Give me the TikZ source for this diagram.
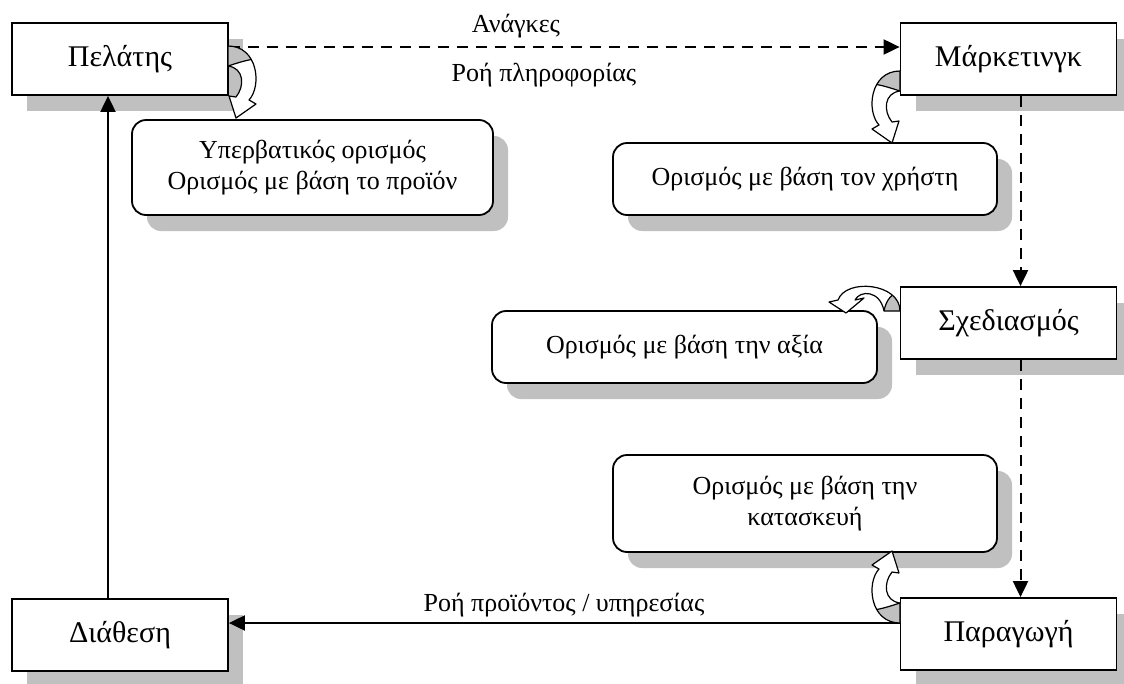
\documentclass[tikz,border=0pt]{standalone}
\usepackage{fontspec}
\setmainfont{Liberation Serif}
\usetikzlibrary{arrows.meta,shadows}
\definecolor{shadowgray}{RGB}{192,192,192}

% curved ribbon arrow: #1 outline, #2 back-face region, #3 seam line
\newcommand\twistarrow[3]{%
  \fill[white] #1;
  \begin{scope}
    \clip #1;
    \fill[shadowgray] #2;
    \draw[twist] #3;
  \end{scope}
  \draw[twist] #1;
}
% ribbon in a local frame: tail edge (0,0)--(0,20), head near (8,72)
\newcommand\localtwist{%
  \twistarrow
    {(0,0) .. controls (30,0) and (34,40) .. (21,54) -- (28,58) -- (8,72) -- (1,50) -- (8,51) .. controls (17,40) and (16,22) .. (0,20) -- cycle}
    {(0,20) .. controls (10,17) and (22,12) .. (40,12) -- (40,-5) -- (-5,-5) -- (-5,20) -- cycle}
    {(0,20) .. controls (10,17) and (22,12) .. (40,12)}%
}

\begin{document}
\begin{tikzpicture}[x=1pt,y=-1pt,
  boxshadow/.style={drop shadow={shadow xshift=15pt,shadow yshift=-16pt,fill=shadowgray,opacity=1}},
  stagebox/.style={draw, line width=1.8pt, fill=white, minimum width=216pt,
    minimum height=72pt, inner sep=0pt, font=\fontsize{30}{36}\selectfont, boxshadow},
  notebox/.style={draw, line width=1.8pt, fill=white, rounded corners=14pt,
    inner sep=0pt, align=center, font=\fontsize{26}{31}\selectfont, boxshadow},
  flowlabel/.style={font=\fontsize{26}{31}\selectfont, anchor=base, inner sep=0pt},
  flow/.style={line width=2pt, -{Triangle[length=16pt,width=15pt]}},
  infoflow/.style={flow, dash pattern=on 11pt off 8pt},
  twist/.style={line width=1.2pt, line join=round},
]
\useasboundingbox (0,0) rectangle (1124,683);

% stages of the cycle
\node[stagebox] (pel) at (120,59)    {Πελάτης};
\node[stagebox] (mk)  at (1008.5,59) {Μάρκετινγκ};
\node[stagebox] (sx)  at (1008.5,323){Σχεδιασμός};
\node[stagebox] (pr)  at (1008.5,634){Παραγωγή};
\node[stagebox] (di)  at (120,635)   {Διάθεση};

% definitions attached to the stages
\node[notebox, minimum width=361pt, minimum height=95pt] (b1) at (312.5,167.5)
  {Υπερβατικός ορισμός\\Ορισμός με βάση το προϊόν};
\node[notebox, minimum width=384pt, minimum height=72pt] (b2) at (805,179)
  {Ορισμός με βάση τον χρήστη};
\node[notebox, minimum width=385pt, minimum height=72pt] (b3) at (684.5,347)
  {Ορισμός με βάση την αξία};
\node[notebox, minimum width=384pt, minimum height=97pt] (b4) at (805,503.5)
  {Ορισμός με βάση την\\κατασκευή};

% flows
\draw[infoflow] ([yshift=12pt]pel.east) -- ([yshift=12pt]mk.west);
\draw[infoflow] ([xshift=12pt]mk.south) -- ([xshift=12pt]sx.north);
\draw[infoflow] ([xshift=12pt]sx.south) -- ([xshift=12pt]pr.north);
\draw[flow] ([yshift=11pt]pr.west) -- ([yshift=11pt]pr.west -| di.east);
\draw[flow] ([xshift=-12pt]di.north) -- ([xshift=-12pt]pel.south);

\node[flowlabel] (needs) at (516,32)  {Ανάγκες};
\node[flowlabel] (info)  at (544,81)  {Ροή πληροφορίας};
\node[flowlabel] (goods) at (564,611) {Ροή προϊόντος / υπηρεσίας};

% curved arrows from the stages to their definitions
\begin{scope}[shift={(228,46)}, x={(1pt,0pt)}, y={(0pt,-1pt)}]
  \localtwist
\end{scope}
\begin{scope}[shift={(900,71)}, x={(-1pt,0pt)}, y={(0pt,-1pt)}]
  \localtwist
\end{scope}
\begin{scope}[shift={(900,623)}, x={(-1pt,0pt)}, y={(0pt,1pt)}]
  \localtwist
\end{scope}
\twistarrow
  {(900,311) .. controls (900,283) and (846,278) .. (838,300) -- (829,302) -- (846,313) -- (864,298) -- (855,300) .. controls (860,290) and (880,290) .. (884,311) -- cycle}
  {(884,311) .. controls (886,300) and (892,292) .. (904,290) -- (904,315) -- cycle}
  {(884,311) .. controls (886,300) and (892,292) .. (904,290)}
\end{tikzpicture}
\end{document}
